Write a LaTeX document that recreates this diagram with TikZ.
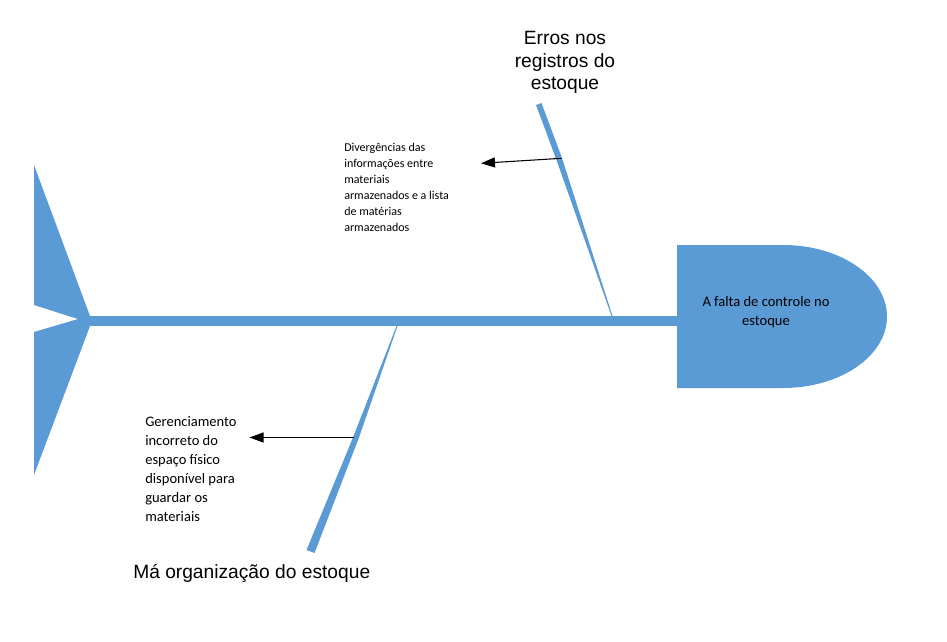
\documentclass[tikz,border=0pt]{standalone}
\usepackage{fontspec}
\newfontfamily\arialf{Liberation Sans}
\newfontfamily\calibf{Carlito}
\usetikzlibrary{arrows.meta}
\definecolor{fishblue}{HTML}{5B9BD5}
\begin{document}
\begin{tikzpicture}[x=0.75pt,y=-0.75pt,
  fishpart/.style={fill=fishblue,draw=none},
  spineline/.style={draw=fishblue,line width=7.5pt},
  causearrow/.style={draw=black,line width=0.8pt,-{Triangle[length=10.5pt,width=7.5pt]}},
  smalltxt/.style={font=\calibf\fontsize{9}{12}\selectfont,align=left,inner sep=0pt,anchor=base west},
  midtxt/.style={font=\calibf\fontsize{10.9}{14.2}\selectfont,align=left,inner sep=0pt,anchor=base west},
  headtxt/.style={font=\calibf\fontsize{10.9}{14.25}\selectfont,align=center,inner sep=0pt,anchor=base},
  bigtxt/.style={font=\arialf\fontsize{14.4}{16.9}\selectfont,inner sep=0pt}
]
\useasboundingbox[fill=white] (0,0) rectangle (947,642);
% tail
\fill[fishpart] (34,165) -- (90,316) -- (90,326) -- (34,475) -- (34,332) -- (78,319) -- (34,305) -- cycle;
\coordinate (tailpt) at (89,321);
% head
\fill[fishpart] (677,245) -- (783,245) arc[start angle=-90,end angle=90,x radius=104,y radius=71.5] -- (677,388) -- cycle;
\coordinate (headleft) at (678,321);
\path[spineline] (tailpt) -- (headleft);
\node[headtxt] (head) at (766,325.7) {A falta de controle no\\estoque};
% upper bone
\fill[fishpart] (536,105) -- (541.5,103) -- (562,158) -- (612.5,316) -- (611.5,316) -- (556.5,160) -- cycle;
\coordinate (j1) at (561.5,158.3);
\coordinate (a1end) at (481,163.3);
\draw[causearrow] (j1) -- (a1end);
% lower bone
\fill[fishpart] (397.5,326) -- (359,437.5) -- (314.5,553) -- (306.5,550) -- (353,437.5) -- (396.5,326) -- cycle;
\coordinate (j2) at (354,437.5);
\coordinate (a2end) at (249.5,437.5);
\draw[causearrow] (j2) -- (a2end);
% texts
\node[smalltxt] (div) at (344,231) {Divergências das\\informações entre\\materiais\\armazenados e a lista\\de matérias\\armazenados};
\node[midtxt] (ger) at (145,521.2) {Gerenciamento\\incorreto do\\espaço físico\\disponível para\\guardar os\\materiais};
\node[bigtxt,align=center,anchor=base] (erros) at (565,90) {Erros nos\\registros do\\estoque};
\node[bigtxt,anchor=base west] (ma) at (133,578) {Má organização do estoque};
\end{tikzpicture}
\end{document}
